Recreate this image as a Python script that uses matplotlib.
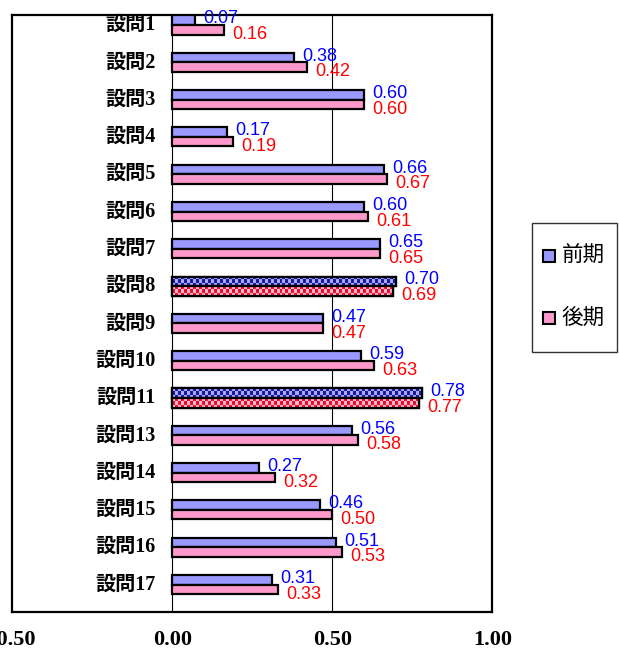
import matplotlib.pyplot as plt
from matplotlib.colors import ListedColormap
from matplotlib.patches import Rectangle
import numpy as np

categories = ['設問1', '設問2', '設問3', '設問4', '設問5', '設問6', '設問7', '設問8',
              '設問9', '設問10', '設問11', '設問13', '設問14', '設問15', '設問16', '設問17']
first_half = [0.07, 0.38, 0.60, 0.17, 0.66, 0.60, 0.65, 0.70,
              0.47, 0.59, 0.78, 0.56, 0.27, 0.46, 0.51, 0.31]
second_half = [0.16, 0.42, 0.60, 0.19, 0.67, 0.61, 0.65, 0.69,
               0.47, 0.63, 0.77, 0.58, 0.32, 0.50, 0.53, 0.33]
series_names = ['前期', '後期']
highlighted = ['設問8', '設問11']
xticks = [-0.5, 0.0, 0.5, 1.0]

plt.rcParams['font.family'] = ['Liberation Serif', 'Noto Sans CJK JP']

W, H = 619, 651
box_l, box_r, box_t, box_b = 12.3, 492.3, 14.7, 612.3
fig = plt.figure(figsize=(W / 100, H / 100), dpi=100)
ax = fig.add_axes([box_l / W, 1 - box_b / H, (box_r - box_l) / W, (box_b - box_t) / H])

blue, pink = '#9999FF', '#FF99CC'
y = np.arange(len(categories))
h = 0.255

bars1 = ax.barh(y - h / 2, first_half, height=h, color=blue, edgecolor='black', linewidth=1.6, zorder=3)
bars2 = ax.barh(y + h / 2, second_half, height=h, color=pink, edgecolor='black', linewidth=1.6, zorder=3)

px_per_unit = (box_r - box_l) / 1.5


def checker(bar, dark, light, z):
    # checkerboard fill for the highlighted questions
    x0, y0 = bar.get_x(), bar.get_y()
    w, hh = bar.get_width(), bar.get_height()
    nx = max(1, int(round(w * px_per_unit / 3)))
    grid = np.indices((3, nx)).sum(axis=0) % 2
    im = ax.imshow(grid, cmap=ListedColormap([light, dark]), extent=(x0, x0 + w, y0 + hh, y0),
                   aspect='auto', interpolation='nearest', zorder=z)
    im.set_clip_path(bar)
    ax.add_patch(Rectangle((x0, y0), w, hh, fill=False, edgecolor='black', linewidth=1.6, zorder=z + 0.1))


for i, cat in enumerate(categories):
    if cat in highlighted:
        checker(bars1[i], '#1a1aa0', '#a8a8ff', 3.2)
        checker(bars2[i], '#e8102a', '#ffb6cf', 3.4)

# data labels
for yi, v in zip(y, first_half):
    ax.annotate(f'{v:.2f}', (v, yi - h / 2), xytext=(6, 1), textcoords='offset points',
                color='#0000FF', fontsize=13, family='Liberation Sans', va='center', ha='left', zorder=5)
for yi, v in zip(y, second_half):
    ax.annotate(f'{v:.2f}', (v, yi + h / 2), xytext=(6, -3.5), textcoords='offset points',
                color='#FF0000', fontsize=13, family='Liberation Sans', va='center', ha='left', zorder=5)

# category labels sit inside the plot box
for yi, cat in zip(y, categories):
    ax.text(-0.052, yi, cat, ha='right', va='center', fontsize=14.5, fontweight='bold')

for xv in [0.0, 0.5]:
    ax.axvline(xv, color='black', linewidth=0.8, zorder=1)

ax.set_xlim(-0.5, 1.0)
ax.set_ylim(15.745, -0.276)
ax.set_xticks(xticks)
ax.set_xticklabels([f'{t:.2f}' for t in xticks], fontsize=16, fontweight='bold')
ax.tick_params(axis='x', length=0, pad=13)
ax.set_yticks([])
for sp in ax.spines.values():
    sp.set_linewidth(1.6)

# legend box
fig.patches.append(Rectangle((532 / W, 1 - 352 / H), 85 / W, 129 / H, transform=fig.transFigure,
                             fill=False, edgecolor='#333333', linewidth=1.0))
for name, col, yc in zip(series_names, [blue, pink], [256, 318]):
    fig.patches.append(Rectangle((543 / W, 1 - (yc + 6) / H), 12 / W, 12 / H, transform=fig.transFigure,
                                 facecolor=col, edgecolor='black', linewidth=1.5))
    fig.text(562 / W, 1 - yc / H, name, fontsize=15.5, family='Noto Sans CJK JP', va='center', ha='left')

fig.savefig('out.png', dpi=100)
